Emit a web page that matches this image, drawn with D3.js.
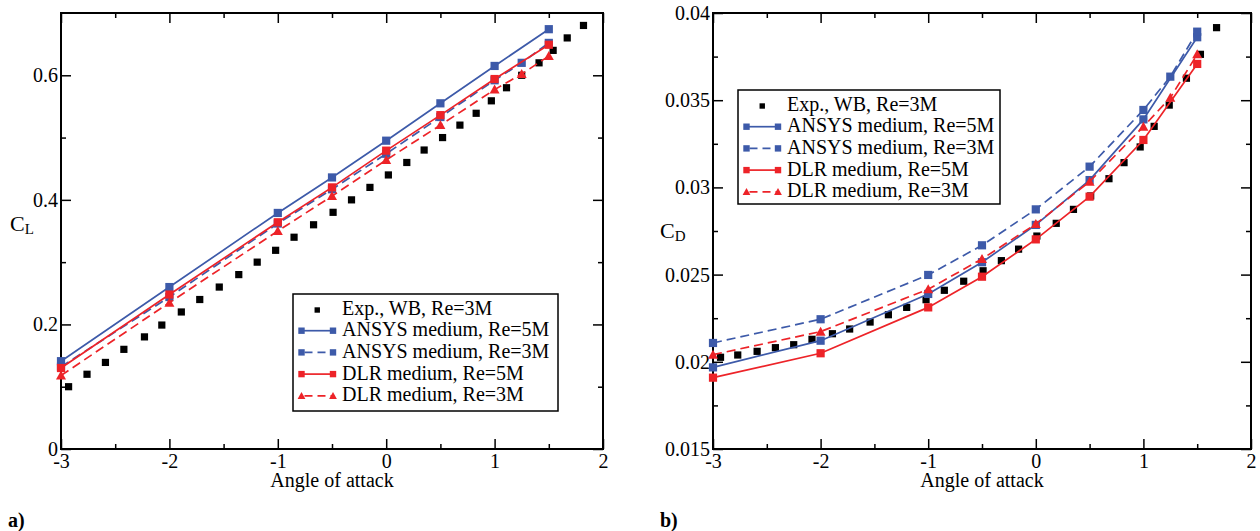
<!DOCTYPE html>
<html><head><meta charset="utf-8">
<script src="https://cdn.jsdelivr.net/npm/d3@7"></script>
<style>
html,body{margin:0;padding:0;background:#fff;}
</style></head>
<body><svg id="chart" width="1260" height="531"></svg>
<script>
// ---------- DATA ----------
const xTicks = [-3, -2, -1, 0, 1, 2];
const xMinorTicks = [-2.5, -1.5, -0.5, 0.5, 1.5];
const clTicks = [0, 0.2, 0.4, 0.6];
const clMinorTicks = [0.1, 0.3, 0.5];
const cdTicks = [0.015, 0.02, 0.025, 0.03, 0.035, 0.04];
const cdMinorTicks = [0.0175, 0.0225, 0.0275, 0.0325, 0.0375];

const seriesNames = ["Exp., WB, Re=3M", "ANSYS medium, Re=5M", "ANSYS medium, Re=3M", "DLR medium, Re=5M", "DLR medium, Re=3M"];

const alphaExpL = [-2.93,-2.76,-2.59,-2.42,-2.23,-2.07,-1.89,-1.72,-1.54,-1.36,-1.19,-1.02,-0.85,-0.67,-0.49,-0.32,-0.15,0.02,0.19,0.35,0.52,0.68,0.83,0.97,1.11,1.25,1.41,1.54,1.67,1.82];
const clExp = [0.10,0.12,0.139,0.16,0.18,0.199,0.22,0.24,0.26,0.28,0.30,0.319,0.34,0.36,0.38,0.40,0.42,0.44,0.46,0.48,0.50,0.52,0.539,0.559,0.58,0.60,0.62,0.64,0.66,0.68];

const alpha5M = [-3,-2,-1,-0.5,0,0.5,1,1.5];
const alpha3M = [-3,-2,-1,-0.5,0,0.5,1,1.25,1.5];

const clAnsys5M = [0.141,0.260,0.379,0.436,0.495,0.555,0.615,0.674];
const clAnsys3M = [0.132,0.244,0.362,0.417,0.474,0.533,0.592,0.620,0.652];
const clDlr5M   = [0.130,0.248,0.364,0.420,0.479,0.536,0.594,0.649];
const clDlr3M   = [0.118,0.235,0.350,0.406,0.464,0.520,0.577,0.602,0.631];

const alphaExpD = [-2.93,-2.77,-2.59,-2.42,-2.25,-2.08,-1.89,-1.73,-1.54,-1.37,-1.20,-1.02,-0.85,-0.67,-0.49,-0.32,-0.16,0.01,0.19,0.35,0.51,0.68,0.82,0.97,1.10,1.24,1.40,1.53,1.68];
const cdExp = [0.02026,0.02039,0.02060,0.02081,0.02098,0.02129,0.02161,0.02188,0.02228,0.02270,0.02312,0.02356,0.02410,0.02462,0.02522,0.02580,0.02646,0.02721,0.02794,0.02874,0.02951,0.03050,0.03142,0.03232,0.03350,0.03472,0.03626,0.03763,0.03916];

const cdAnsys5M = [0.01968,0.02121,0.02389,0.02571,0.02785,0.03042,0.03390,0.03861];
const cdAnsys3M = [0.02108,0.02244,0.02498,0.02668,0.02874,0.03119,0.03444,0.03635,0.03893];
const cdDlr5M   = [0.01909,0.02049,0.02312,0.02488,0.02702,0.02947,0.03272,0.03708];
const cdDlr3M   = [0.02041,0.02173,0.02416,0.02590,0.02790,0.03033,0.03348,0.03514,0.03763];

// ---------- STYLE ----------
const BLUE = "#3d5aa9", RED = "#ed2328";
const SERIF = "'Liberation Serif', 'Times New Roman', Tinos, serif";
const seriesStyle = [
  {color:"#000", dash:null, marker:"exp", line:false},
  {color:BLUE, dash:null, marker:"square", line:true},
  {color:BLUE, dash:"9,5", marker:"square", line:true},
  {color:RED, dash:null, marker:"square", line:true},
  {color:RED, dash:"9,5", marker:"triangle", line:true}
];

const svg = d3.select("#chart");
const FONT = 20;

function zipXY(xs, ys){ return xs.map((x,i)=>({x:x, y:ys[i]})); }

function drawMarker(g, kind, cx, cy, color, scale){
  const s = scale || 1;
  if(kind === "exp"){
    const h = 3.6*s;
    g.append("rect").attr("x",cx-h).attr("y",cy-h).attr("width",2*h).attr("height",2*h).attr("fill","#000");
  } else if(kind === "square"){
    const h = 4.1*s;
    g.append("rect").attr("x",cx-h).attr("y",cy-h).attr("width",2*h).attr("height",2*h).attr("fill",color);
  } else {
    const h = 5*s;
    g.append("path").attr("d",`M${cx},${cy-h}L${cx+h},${cy+h*0.8}L${cx-h},${cy+h*0.8}Z`).attr("fill",color);
  }
}

function txt(g){ return g.append("text").style("font-family", SERIF).attr("fill","#000"); }

function panel(cfg){
  const x = d3.scaleLinear().domain([-3,2]).range([cfg.left, cfg.right]);
  const y = d3.scaleLinear().domain(cfg.yDomain).range([cfg.bottom, cfg.top]);
  const g = svg.append("g");

  const fmt = d => String(d);
  function styleAxis(sel){
    sel.select(".domain").remove();
    sel.selectAll("line").attr("stroke","#000").attr("stroke-width",1.5);
    sel.selectAll("text").attr("font-size",FONT).attr("fill","#000").style("font-family", SERIF);
  }
  // bottom
  g.append("g").attr("transform",`translate(0,${cfg.bottom})`)
    .call(d3.axisBottom(x).tickValues(xTicks).tickFormat(fmt).tickSizeInner(-10).tickSizeOuter(0).tickPadding(5)).call(styleAxis);
  g.append("g").attr("transform",`translate(0,${cfg.bottom})`)
    .call(d3.axisBottom(x).tickValues(xMinorTicks).tickFormat("").tickSizeInner(-5).tickSizeOuter(0)).call(styleAxis);
  // top
  g.append("g").attr("transform",`translate(0,${cfg.top})`)
    .call(d3.axisTop(x).tickValues(xTicks).tickFormat("").tickSizeInner(-10).tickSizeOuter(0)).call(styleAxis);
  g.append("g").attr("transform",`translate(0,${cfg.top})`)
    .call(d3.axisTop(x).tickValues(xMinorTicks).tickFormat("").tickSizeInner(-5).tickSizeOuter(0)).call(styleAxis);
  // left
  g.append("g").attr("transform",`translate(${cfg.left},0)`)
    .call(d3.axisLeft(y).tickValues(cfg.yTicks).tickFormat(fmt).tickSizeInner(-10).tickSizeOuter(0).tickPadding(3)).call(styleAxis);
  g.append("g").attr("transform",`translate(${cfg.left},0)`)
    .call(d3.axisLeft(y).tickValues(cfg.yMinor).tickFormat("").tickSizeInner(-5).tickSizeOuter(0)).call(styleAxis);
  // right
  g.append("g").attr("transform",`translate(${cfg.right},0)`)
    .call(d3.axisRight(y).tickValues(cfg.yTicks).tickFormat("").tickSizeInner(-10).tickSizeOuter(0)).call(styleAxis);
  g.append("g").attr("transform",`translate(${cfg.right},0)`)
    .call(d3.axisRight(y).tickValues(cfg.yMinor).tickFormat("").tickSizeInner(-5).tickSizeOuter(0)).call(styleAxis);

  // frame
  g.append("rect").attr("x",cfg.left).attr("y",cfg.top).attr("width",cfg.right-cfg.left).attr("height",cfg.bottom-cfg.top)
    .attr("fill","none").attr("stroke","#000").attr("stroke-width",2);

  // data
  const line = d3.line().x(d=>x(d.x)).y(d=>y(d.y));
  cfg.series.forEach((pts, i) => {
    const st = seriesStyle[i];
    if(st.line){
      g.append("path").attr("d", line(pts)).attr("fill","none").attr("stroke",st.color)
        .attr("stroke-width",1.7).attr("stroke-dasharray", st.dash);
    }
    pts.forEach(p => drawMarker(g, st.marker, x(p.x), y(p.y), st.color, 1));
  });

  // axis titles
  txt(g).attr("x",(cfg.left+cfg.right)/2).attr("y",cfg.bottom+38).attr("text-anchor","middle")
    .attr("font-size",FONT).text("Angle of attack");
  const yl = txt(g).attr("x",cfg.ylabX).attr("y",cfg.ylabY).attr("font-size",22);
  yl.append("tspan").text("C");
  yl.append("tspan").attr("font-size",15).attr("dy",3).text(cfg.ylabSub);

  // panel letter
  txt(g).attr("x",cfg.letterX).attr("y",527).attr("font-size",FONT).attr("font-weight","bold").text(cfg.letter);

  // legend
  const L = cfg.legend;
  g.append("rect").attr("x",L.x).attr("y",L.y).attr("width",L.w).attr("height",L.h)
    .attr("fill","#fff").attr("stroke","#000").attr("stroke-width",1.5);
  seriesNames.forEach((name, i) => {
    const st = seriesStyle[i];
    const by = L.y + 20.5 + i*21.7;
    const sy = by - 5.5;
    const x0 = L.x + 8.5, x1 = L.x + 40;
    if(st.line){
      g.append("line").attr("x1",x0).attr("x2",x1).attr("y1",sy).attr("y2",sy)
        .attr("stroke",st.color).attr("stroke-width",1.7).attr("stroke-dasharray", st.dash ? "8,5" : null)
        .attr("stroke-dashoffset", st.dash ? -3 : null);
      drawMarker(g, st.marker, x0, sy, st.color, 0.78);
      drawMarker(g, st.marker, x1, sy, st.color, 0.78);
    } else {
      drawMarker(g, st.marker, (x0+x1)/2, sy + 1, st.color, 0.75);
    }
    txt(g).attr("x",L.x+49).attr("y",by).attr("font-size",FONT).text(name);
  });
}

panel({
  left:61, right:603, top:13, bottom:449,
  yDomain:[0,0.7], yTicks:clTicks, yMinor:clMinorTicks,
  series:[zipXY(alphaExpL,clExp), zipXY(alpha5M,clAnsys5M), zipXY(alpha3M,clAnsys3M), zipXY(alpha5M,clDlr5M), zipXY(alpha3M,clDlr3M)],
  ylabX:10, ylabY:230.5, ylabSub:"L",
  letter:"a)", letterX:8,
  legend:{x:293, y:294, w:265, h:117}
});
panel({
  left:713, right:1251, top:13, bottom:449,
  yDomain:[0.015,0.04], yTicks:cdTicks, yMinor:cdMinorTicks,
  series:[zipXY(alphaExpD,cdExp), zipXY(alpha5M,cdAnsys5M), zipXY(alpha3M,cdAnsys3M), zipXY(alpha5M,cdDlr5M), zipXY(alpha3M,cdDlr3M)],
  ylabX:660, ylabY:238, ylabSub:"D",
  letter:"b)", letterX:660,
  legend:{x:738, y:90, w:262, h:114}
});
</script></body></html>
